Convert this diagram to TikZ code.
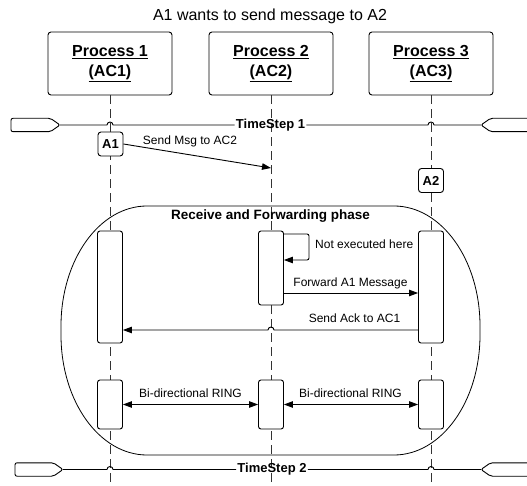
\documentclass[tikz,border=0pt]{standalone}
\usepackage{fontspec}
\setmainfont{Liberation Sans}
\usetikzlibrary{positioning,shapes.symbols,arrows.meta,calc}

\begin{document}
\begin{tikzpicture}[
  x=1pt, y=-1pt,
  font=\fontsize{12}{14}\selectfont,
  proc/.style={draw, fill=white, rounded corners=3pt, line width=0.9pt, minimum width=124pt, minimum height=63pt, align=center, font=\fontsize{16}{20}\selectfont\bfseries},
  actor/.style={draw, fill=white, rounded corners=3pt, line width=0.9pt, minimum width=25pt, minimum height=24pt, inner sep=0pt, font=\fontsize{13}{15}\selectfont\bfseries},
  act/.style={draw, fill=white, rounded corners=2.5pt, line width=0.9pt, minimum width=25pt, inner sep=0pt},
  tagl/.style={signal, signal to=east, signal pointer angle=70, draw, fill=white, rounded corners=2pt, line width=0.9pt, minimum height=13.4pt, inner sep=0pt, outer sep=0pt},
  tagr/.style={tagl, signal to=west},
  tstep/.style={inner sep=1pt, font=\fontsize{13}{15}\selectfont\bfseries},
  lbl/.style={inner sep=0pt, anchor=base},
  life/.style={draw=black!80, line width=0.9pt, dash pattern=on 9pt off 5pt},
  tline/.style={line width=0.9pt},
  arr/.style={-{Triangle[length=9pt,width=6.5pt]}, line width=0.9pt},
  biarr/.style={{Triangle[length=9pt,width=6.5pt]}-{Triangle[length=9pt,width=6.5pt]}, line width=0.9pt},
]
\useasboundingbox (0,0) rectangle (527,486);

% title and process heads
\node[lbl, font=\fontsize{16}{19}\selectfont] (title) at (270,21) {A1 wants to send message to A2};
\node[proc] (p1) at (110,63.5) {\underline{Process 1}\\\underline{(AC1)}};
\node[proc] (p2) at (271,63.5) {\underline{Process 2}\\\underline{(AC2)}};
\node[proc] (p3) at (431,63.5) {\underline{Process 3}\\\underline{(AC3)}};

% lifelines
\coordinate (e1) at (110,486);
\coordinate (e2) at (271,486);
\coordinate (e3) at (431,486);
\foreach \a/\b in {p1/e1, p2/e2, p3/e3}
  \draw[life] (\a) -- (\b);

% phase frame
\draw[line width=0.8pt] (147,206) -- (394,206)
  arc[start angle=90, end angle=0, x radius=86pt, y radius=120pt] -- (480,335)
  arc[start angle=0, end angle=-90, x radius=86pt, y radius=120pt] -- (147,455)
  arc[start angle=-90, end angle=-180, x radius=86pt, y radius=120pt] -- (61,326)
  arc[start angle=180, end angle=90, x radius=86pt, y radius=120pt];
\node[lbl, font=\fontsize{13.5}{16}\selectfont\bfseries] (phase) at (270.5,220) {Receive and Forwarding phase};

% time steps
\node[tagl, minimum width=49pt, anchor=west] (t1l) at (11,125) {};
\node[tagr, minimum width=64pt, anchor=east] (t1r) at (545,125) {};
\node[tstep] (ts1) at (270.5,125) {TimeStep 1};
\draw[tline] (t1l.east) -- (107,125) arc[start angle=180, end angle=0, radius=3pt] -- (ts1.west);
\draw[tline] (ts1.east) -- (428,125) arc[start angle=180, end angle=0, radius=3pt] -- (t1r.west);

\node[tagl, minimum width=48pt, anchor=west] (t2l) at (15,469.5) {};
\node[tagr, minimum width=64pt, anchor=east] (t2r) at (545,469.5) {};
\node[tstep] (ts2) at (272,469.5) {TimeStep 2};
\draw[tline] (t2l.east) -- (107,469.5) arc[start angle=180, end angle=0, radius=3pt] -- (ts2.west);
\draw[tline] (ts2.east) -- (428,469.5) arc[start angle=180, end angle=0, radius=3pt] -- (t2r.west);

% actors
\node[actor] (a1) at (110.5,144) {A1};
\node[actor] (a2) at (431,180.5) {A2};
\coordinate (m2) at (271,168);
\draw[arr] (a1.east) -- (m2);
\node[lbl] (sendlbl) at (190,145) {Send Msg to AC2};

% activation bars
\node[act, minimum height=112pt] (r1) at (110,287) {};
\node[act, minimum height=74pt]  (r2) at (271,268) {};
\node[act, minimum height=112pt] (r3) at (431,287) {};
\node[act, minimum height=49pt]  (s1) at (110,404.5) {};
\node[act, minimum height=49pt]  (s2) at (271,404.5) {};
\node[act, minimum height=49pt]  (s3) at (431,404.5) {};

% messages
\draw[arr, rounded corners=2pt] (r2.east |- 0,234) -- (309,234) -- (309,260) -- (r2.east |- 0,260);
\node[lbl, anchor=base west] (notlbl) at (315,249) {Not executed here};
\draw[arr] (r2.east |- 0,293) -- (r3.west |- 0,293);
\node[lbl] (fwdlbl) at (350.5,286) {Forward A1 Message};
\draw[arr] (r3.west |- 0,330) -- (274,330) arc[start angle=0, end angle=180, radius=3pt] -- (r1.east |- 0,330);
\node[lbl] (acklbl) at (354.5,322.5) {Send Ack to AC1};
\draw[biarr] (s1.east) -- (s2.west);
\draw[biarr] (s2.east) -- (s3.west);
\node[lbl] (ring1) at (190.5,397.5) {Bi-directional RING};
\node[lbl] (ring2) at (350.5,397.5) {Bi-directional RING};

\end{tikzpicture}
\end{document}
